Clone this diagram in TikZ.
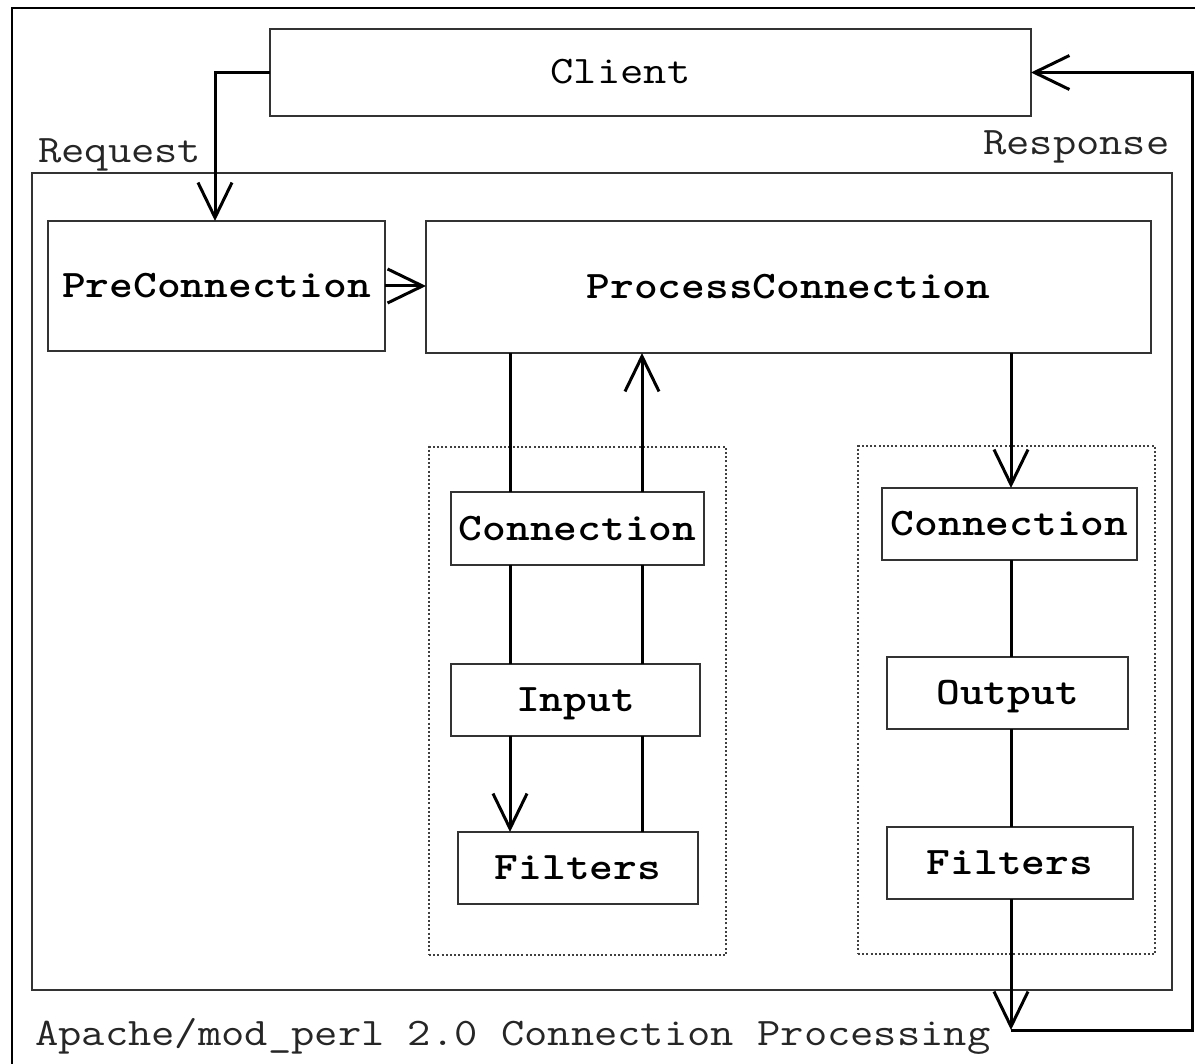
\documentclass[tikz,border=0pt]{standalone}
\usepackage{graphicx}
\usetikzlibrary{arrows.meta}
\newcommand\cw[1]{\scalebox{1.16}[1]{#1}}
\begin{document}
\begin{tikzpicture}[x=1pt,y=-1pt,
  lbl/.style={font=\fontsize{39}{44}\selectfont\ttfamily, inner sep=0pt, text=black!85},
  box/.style={draw=black!80, line width=2pt, fill=white, inner sep=0pt, outer sep=0pt,
              text height=23pt, text depth=0pt, font=\fontsize{39}{44}\selectfont\ttfamily\bfseries},
  grp/.style={draw=black!75, line width=1.6pt, dash pattern=on 2pt off 2.2pt, inner sep=0pt, outer sep=0pt},
  frame/.style={draw=black!80, line width=2pt, inner sep=0pt, outer sep=0pt},
  conn/.style={line width=3pt, black},
  arr/.style={conn, -{Straight Barb[length=35pt,width=34pt]}},
]
\useasboundingbox (0,0) rectangle (1195,1064);
% outer frame (cropped)
\draw[black, line width=2pt] (12,1070) -- (12,8) -- (1200,8);
% mod_perl area
\node[frame, minimum width=1140pt, minimum height=817pt] (area) at (602,581.5) {};
% groups
\node[grp, minimum width=297pt, minimum height=508pt] (gin) at (577.5,701) {};
\node[grp, minimum width=297pt, minimum height=508pt] (gout) at (1006.5,700) {};
% boxes
\node[box, minimum width=761pt, minimum height=87pt, font=\fontsize{39}{44}\selectfont\ttfamily] (client) at (650.5,72.5) {\cw{Client}\hspace*{60pt}};
\node[box, minimum width=337pt, minimum height=130pt] (pre) at (216.5,286) {\cw{PreConnection}};
\node[box, minimum width=725pt, minimum height=132pt] (pc) at (788.5,287) {\cw{ProcessConnection}};
\node[box, minimum width=253pt, minimum height=73pt] (conL) at (577.5,528.5) {\cw{Connection}};
\node[box, minimum width=249pt, minimum height=72pt] (inp) at (575.5,699.5) {\cw{Input}};
\node[box, minimum width=240pt, minimum height=72pt] (filL) at (578,868) {\cw{Filters}};
\node[box, minimum width=255pt, minimum height=72pt] (conR) at (1009.5,524) {\cw{Connection}};
\node[box, minimum width=241pt, minimum height=72pt] (outp) at (1007.5,693) {\cw{Output}};
\node[box, minimum width=246pt, minimum height=72pt] (filR) at (1010,863) {\cw{Filters}};
% labels
\node[lbl, anchor=base west] (req) at (38,163) {\cw{Request}};
\node[lbl, anchor=base west] (resp) at (983,155) {\cw{Response}};
\node[lbl, anchor=base west] (cap) at (35,1045) {\cw{Apache/mod\_perl 2.0 Connection Processing}};
% helper coordinates
\coordinate (rq) at (215,0);
\coordinate (xL) at (510,0);
\coordinate (xR) at (642,0);
\coordinate (corner) at (1011,1030);
\coordinate (rc) at (1192,1030);
% request
\draw[arr] (client.west) -- (client.west -| rq) -- (pre.north -| rq);
\draw[arr] (pre.east) -- (pre.east -| pc.west);
% input chain
\draw[conn] (pc.south -| xL) -- (conL.north -| xL);
\draw[conn] (conL.south -| xL) -- (inp.north -| xL);
\draw[arr] (inp.south -| xL) -- (filL.north -| xL);
\draw[conn] (filL.north -| xR) -- (inp.south -| xR);
\draw[conn] (inp.north -| xR) -- (conL.south -| xR);
\draw[arr] (conL.north -| xR) -- (pc.south -| xR);
% output chain
\draw[arr] (pc.south -| corner) -- (conR.north -| corner);
\draw[conn] (conR.south -| corner) -- (outp.north -| corner);
\draw[conn] (outp.south -| corner) -- (filR.north -| corner);
\draw[arr] (filR.south -| corner) -- (corner);
\draw[arr] (corner) -- (rc) -- (rc |- client.east) -- (client.east);
\end{tikzpicture}
\end{document}
